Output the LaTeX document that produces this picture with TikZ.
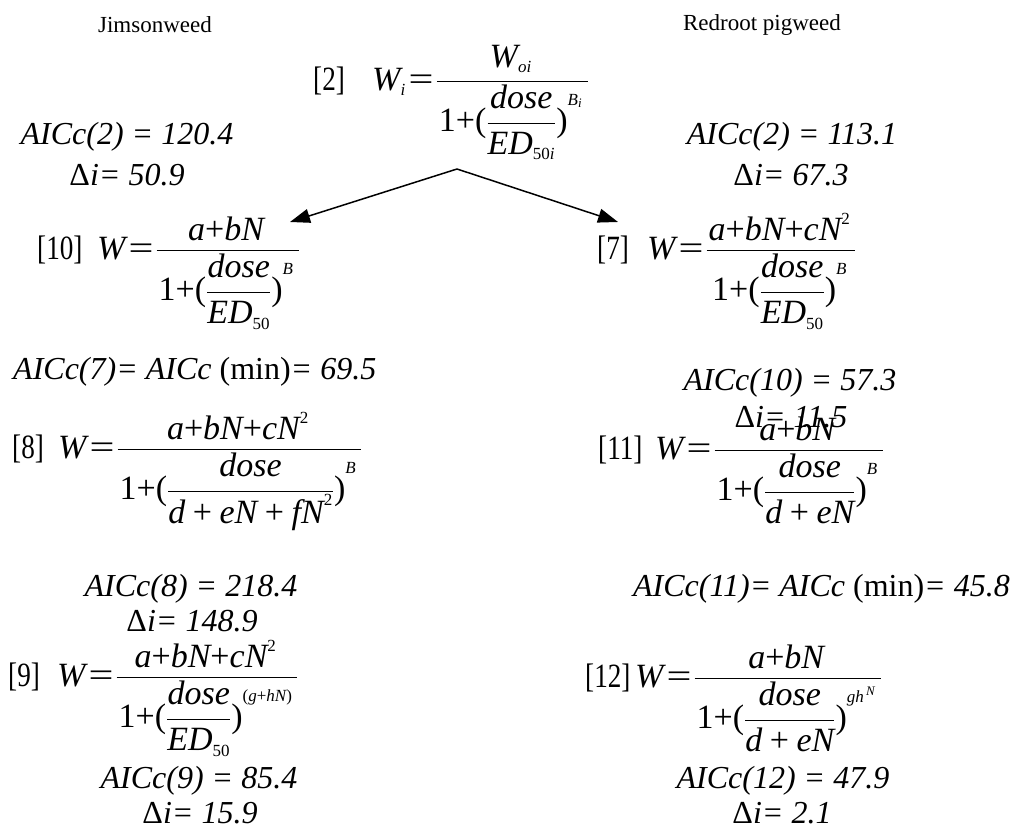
\RequirePackage{fix-cm}
\documentclass[tikz,border=0pt]{standalone}
\usepackage{amsmath}
\usepackage{graphicx}
\usepackage{fontspec}
\setmainfont{Liberation Serif}
\usetikzlibrary{arrows.meta}
\DeclareMathSizes{34}{34}{17}{13}
\newcommand\ti[1]{\textit{#1}}
\newcommand\tu[1]{\textup{#1}}
\newcommand\pl{\mathord{\textup{+}}}
\newcommand\pls{\mathbin{\textup{+}}}
\newcommand\eqs{\mathord{\kern3pt\scalebox{1.3}[1]{\textup{=}}\kern2pt}}
\newcommand\lp{\mathopen{\textup{(}}}
\newcommand\rp{\mathclose{\textup{)\rule{0pt}{33pt}}}}
% outer fraction with lowered numerator and a little padding
\newcommand\fr[2]{\dfrac{\lower4pt\hbox{$\displaystyle\kern2pt#1\kern5pt$}}{\kern2pt#2\kern5pt}}
\newcommand\frz[2]{\dfrac{\kern2pt#1\kern5pt}{\kern2pt#2\kern5pt}}
\newcommand\tg[1]{\scalebox{0.8}[1]{#1}}
\tikzset{
  lbl/.style={font=\fontsize{23}{27}\selectfont, inner sep=0pt},
  stat/.style={font=\fontsize{32}{38}\selectfont\itshape, inner sep=0pt},
  eqn/.style={font=\fontsize{34}{40}\selectfont, inner sep=0pt, anchor=base west},
  tag/.style={font=\fontsize{34}{40}\selectfont, inner sep=0pt, anchor=base west},
  arr/.style={-{Triangle[length=20pt,width=14pt]}, line width=1.5pt}
}
\begin{document}
\begin{tikzpicture}[x=1pt,y=-1pt]
\useasboundingbox (0,0) rectangle (1013,830);
% column labels
\node[lbl] (jim) at (155,25) {Jimsonweed};
\node[lbl] (red) at (762,25) {Redroot pigweed};
% equation 2
\node[tag] (t2) at (313,90) {\tg{[2]}};
\node[eqn] (e2) at (372,90) {$\ti{W}_{\ti{i}}\eqs\frz{\ti{W}_{\ti{oi}}}{\tu{1}\pl\lp\dfrac{\ti{dose}}{\ti{ED}_{\tu{50}\ti{i}}}\rp^{\ti{B}_{\ti{i}}}}$};
\node[stat] (s2l) at (127,137) {AICc(2) = 120.4};
\node[stat] (d2l) at (127,175) {\upshape Δ\itshape i= 50.9};
\node[stat] (s2r) at (792,137) {AICc(2) = 113.1};
\node[stat] (d2r) at (791,175) {\upshape Δ\itshape i= 67.3};
% arrows
\coordinate (apex) at (457,169);
\coordinate (tipl) at (290,222);
\coordinate (tipr) at (618,222);
\draw[arr] (apex) -- (tipl);
\draw[arr] (apex) -- (tipr);
% equation 10
\node[tag] (t10) at (37,259) {\tg{[10]}};
\node[eqn] (e10) at (97,259) {$\ti{W}\eqs\fr{\ti{a}\pl\ti{bN}}{\tu{1}\pl\lp\dfrac{\ti{dose}}{\ti{ED}_{\tu{50}}}\rp^{\ti{B}}}$};
% equation 7
\node[tag] (t7) at (597,259) {\tg{[7]}};
\node[eqn] (e7) at (647,259) {$\ti{W}\eqs\fr{\ti{a}\pl\ti{bN}\pl\ti{cN}^{\tu{2}}}{\tu{1}\pl\lp\dfrac{\ti{dose}}{\ti{ED}_{\tu{50}}}\rp^{\ti{B}}}$};
\node[stat, anchor=west] (s7) at (13,372) {AICc(7)= AICc \upshape(min)\itshape= 69.5};
\node[stat] (s10) at (790,383) {AICc(10) = 57.3};
\node[stat] (d10) at (791,417) {\upshape Δ\itshape i= 11.5};
% equation 8
\node[tag] (t8) at (12,458) {\tg{[8]}};
\node[eqn] (e8) at (58,458) {$\ti{W}\eqs\fr{\ti{a}\pl\ti{bN}\pl\ti{cN}^{\tu{2}}}{\tu{1}\pl\lp\dfrac{\ti{dose}}{\ti{d}\pls\ti{eN}\pls\ti{fN}^{\tu{2}}}\rp^{\ti{B}}}$};
% equation 11
\node[tag] (t11) at (598,459) {\tg{[11]}};
\node[eqn] (e11) at (655,459) {$\ti{W}\eqs\fr{\ti{a}\pl\ti{bN}}{\tu{1}\pl\lp\dfrac{\ti{dose}}{\ti{d}\pls\ti{eN}}\rp^{\ti{B}}}$};
\node[stat] (s8) at (191,589) {AICc(8) = 218.4};
\node[stat] (d8) at (192,621) {\upshape Δ\itshape i= 148.9};
\node[stat, anchor=east] (s11) at (1010,589) {AICc(11)= AICc \upshape(min)\itshape= 45.8};
% equation 9
\node[tag] (t9) at (8,686) {\tg{[9]}};
\node[eqn] (e9) at (57,686) {$\ti{W}\eqs\fr{\ti{a}\pl\ti{bN}\pl\ti{cN}^{\tu{2}}}{\tu{1}\pl\lp\dfrac{\ti{dose}}{\ti{ED}_{\tu{50}}}\rp^{\tu{(}\ti{g}\pl\ti{hN}\tu{)}}}$};
% equation 12
\node[tag] (t12) at (585,687) {\tg{[12]}};
\node[eqn] (e12) at (635,687) {$\ti{W}\eqs\fr{\ti{a}\pl\ti{bN}}{\tu{1}\pl\lp\dfrac{\ti{dose}}{\ti{d}\pls\ti{eN}}\rp^{\ti{gh}^{\,\ti{N}}}}$};
\node[stat] (s9) at (199,781) {AICc(9) = 85.4};
\node[stat] (d9) at (200,813) {\upshape Δ\itshape i= 15.9};
\node[stat] (s12) at (783,781) {AICc(12) = 47.9};
\node[stat] (d12) at (782,813) {\upshape Δ\itshape i= 2.1};
\end{tikzpicture}
\end{document}
